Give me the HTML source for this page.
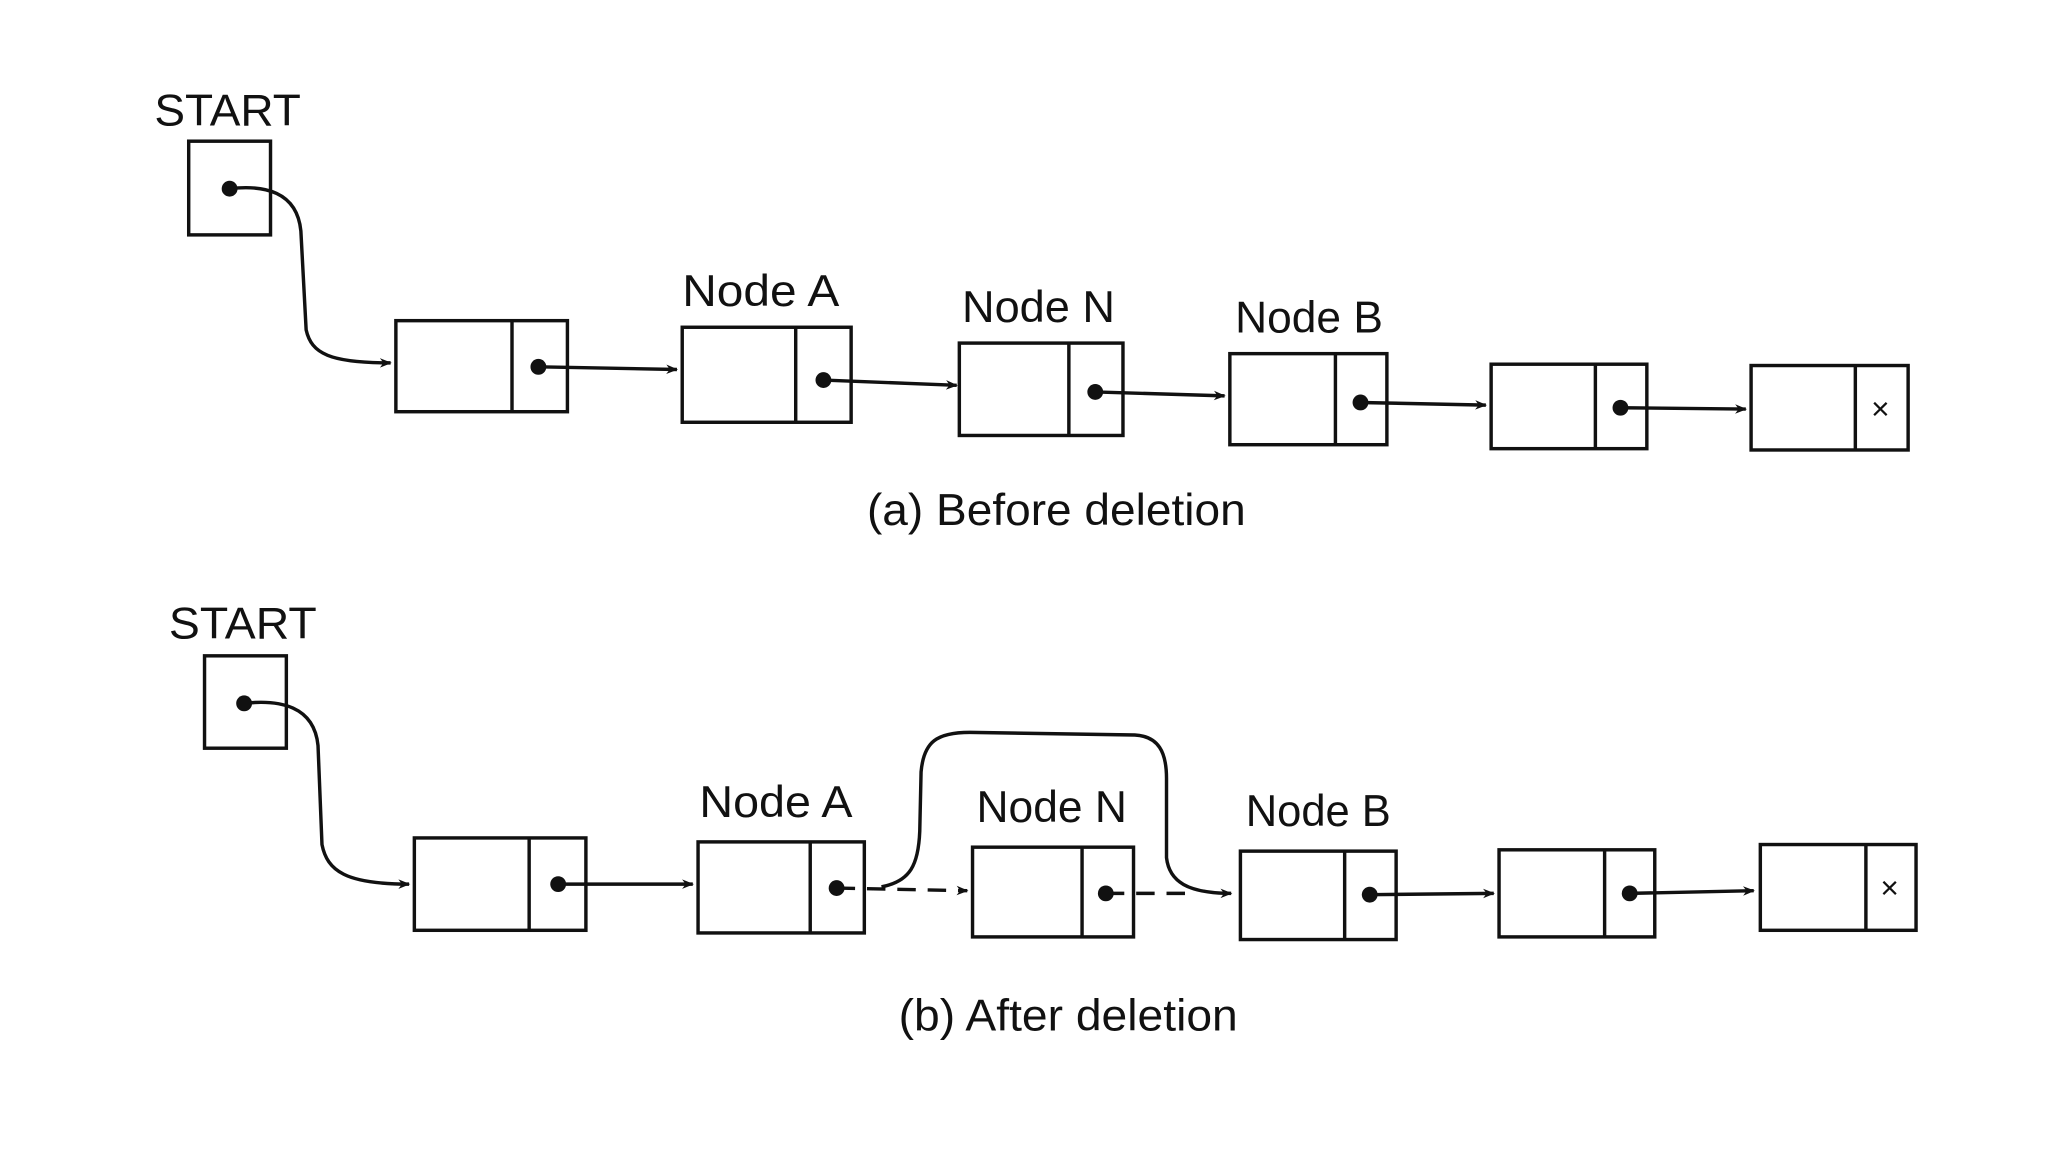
<!DOCTYPE html>
<html><head><meta charset="utf-8"><style>html,body{margin:0;padding:0;background:#fff}svg{display:block}</style></head>
<body>
<svg width="2048" height="1152" viewBox="0 0 1552 873" preserveAspectRatio="none" xmlns="http://www.w3.org/2000/svg">
<defs><marker id="ar" viewBox="0 0 10 10" refX="9" refY="5" markerWidth="9" markerHeight="9" orient="auto" markerUnits="userSpaceOnUse"><path d="M0,1 L10,5 L0,9 L3,5 z" fill="#111"/></marker></defs>
<g fill="none" stroke="#111" stroke-width="2.6">
<!-- (a) -->
<rect x="143" y="107" width="62" height="71"/>
<path d="M174,143 C200,140 225,145 228,175 L232,250 C236,268 250,275 296,275" marker-end="url(#ar)"/>
<rect x="300" y="243" width="130" height="69"/><line x1="388" y1="243" x2="388" y2="312"/>
<path d="M408,278 L513,280" marker-end="url(#ar)"/>
<rect x="517" y="248" width="128" height="72"/><line x1="603" y1="248" x2="603" y2="320"/>
<path d="M624,288 L725,292" marker-end="url(#ar)"/>
<rect x="727" y="260" width="124" height="70"/><line x1="810" y1="260" x2="810" y2="330"/>
<path d="M830,297 L928,300" marker-end="url(#ar)"/>
<rect x="932" y="268" width="119" height="69"/><line x1="1012" y1="268" x2="1012" y2="337"/>
<path d="M1031,305 L1126,307" marker-end="url(#ar)"/>
<rect x="1130" y="276" width="118" height="64"/><line x1="1209" y1="276" x2="1209" y2="340"/>
<path d="M1228,309 L1323,310" marker-end="url(#ar)"/>
<rect x="1327" y="277" width="119" height="64"/><line x1="1406" y1="277" x2="1406" y2="341"/>
<!-- (b) -->
<rect x="155" y="497" width="62" height="70"/>
<path d="M185,533 C212,530 238,535 241,565 L244,640 C248,660 262,670 310,670" marker-end="url(#ar)"/>
<rect x="314" y="635" width="130" height="70"/><line x1="401" y1="635" x2="401" y2="705"/>
<path d="M423,670 L525,670" marker-end="url(#ar)"/>
<rect x="529" y="638" width="126" height="69"/><line x1="614" y1="638" x2="614" y2="707"/>
<path d="M634,673 L733,675" stroke-dasharray="14,9" marker-end="url(#ar)"/>
<path d="M668,672 C690,668 696,655 697,630 L698,585 C700,562 710,555 735,555 L860,557 C878,558 884,570 884,590 L884,650 C886,668 900,677 933,677" marker-end="url(#ar)"/>
<rect x="737" y="642" width="122" height="68"/><line x1="820" y1="642" x2="820" y2="710"/>
<path d="M838,677 L900,677" stroke-dasharray="14,9"/>
<rect x="940" y="645" width="118" height="67"/><line x1="1019" y1="645" x2="1019" y2="712"/>
<path d="M1038,678 L1132,677" marker-end="url(#ar)"/>
<rect x="1136" y="644" width="118" height="66"/><line x1="1216" y1="644" x2="1216" y2="710"/>
<path d="M1235,677 L1329,675" marker-end="url(#ar)"/>
<rect x="1334" y="640" width="118" height="65"/><line x1="1414" y1="640" x2="1414" y2="705"/>
</g>
<g fill="#111">
<circle cx="174" cy="143" r="6"/><circle cx="408" cy="278" r="6"/><circle cx="624" cy="288" r="6"/><circle cx="830" cy="297" r="6"/><circle cx="1031" cy="305" r="6"/><circle cx="1228" cy="309" r="6"/>
<circle cx="185" cy="533" r="6"/><circle cx="423" cy="670" r="6"/><circle cx="634" cy="673" r="6"/><circle cx="838" cy="677" r="6"/><circle cx="1038" cy="678" r="6"/><circle cx="1235" cy="677" r="6"/>
</g>
<g font-family="Liberation Sans, sans-serif" fill="#111" font-size="34">
<text x="117" y="95" textLength="111" lengthAdjust="spacingAndGlyphs">START</text>
<text x="517" y="232" textLength="119" lengthAdjust="spacingAndGlyphs">Node A</text>
<text x="729" y="244" textLength="116" lengthAdjust="spacingAndGlyphs">Node N</text>
<text x="936" y="252" textLength="112" lengthAdjust="spacingAndGlyphs">Node B</text>
<text x="1418" y="318" font-size="24">×</text>
<text x="657" y="398" textLength="287" lengthAdjust="spacingAndGlyphs">(a) Before deletion</text>
<text x="128" y="484" textLength="112" lengthAdjust="spacingAndGlyphs">START</text>
<text x="530" y="619" textLength="116" lengthAdjust="spacingAndGlyphs">Node A</text>
<text x="740" y="623" textLength="114" lengthAdjust="spacingAndGlyphs">Node N</text>
<text x="944" y="626" textLength="110" lengthAdjust="spacingAndGlyphs">Node B</text>
<text x="1425" y="681" font-size="24">×</text>
<text x="681" y="781" textLength="257" lengthAdjust="spacingAndGlyphs">(b) After deletion</text>
</g>
</svg>
</body></html>
